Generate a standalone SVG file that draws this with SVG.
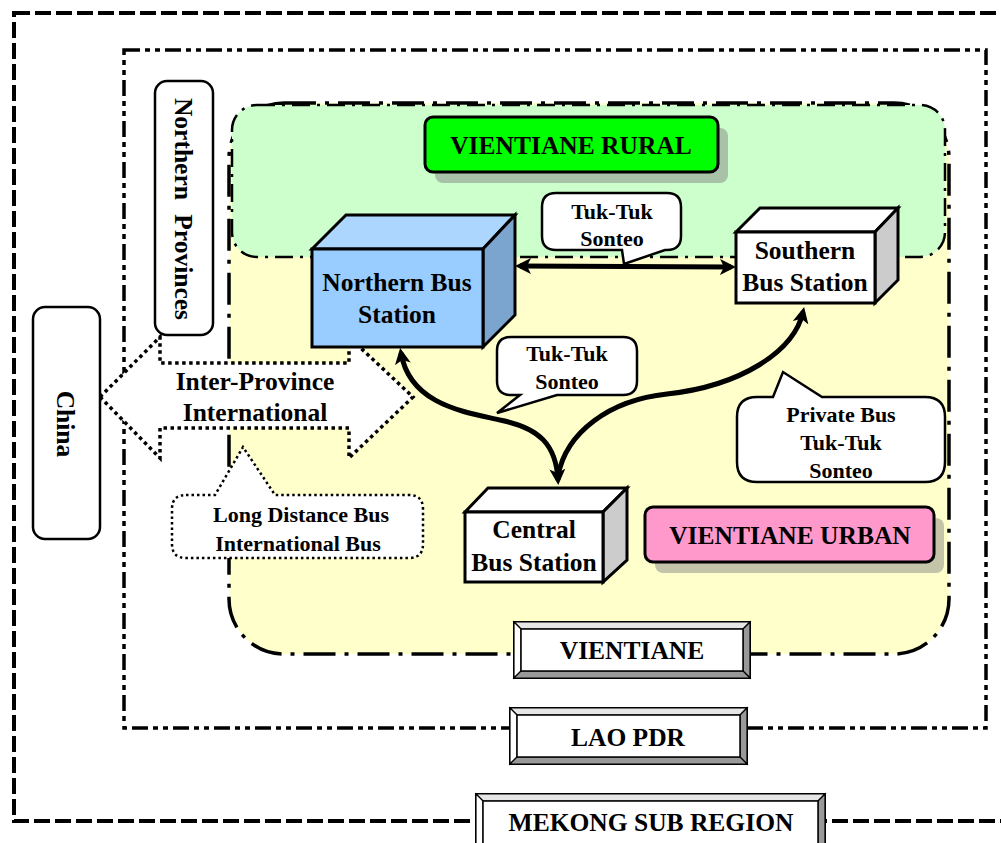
<svg xmlns="http://www.w3.org/2000/svg" width="1001" height="843" viewBox="0 0 1001 843">
<defs>
<style>
text{font-family:"Liberation Serif","Times New Roman",serif;font-weight:bold;fill:#000;text-anchor:middle}
.lbl{font-size:25.5px}
.sm{font-size:22px}
.edge{stroke:#000;stroke-width:3;stroke-linejoin:miter}
.cl{fill:#fff;stroke:#000;stroke-width:2.5}
.con{fill:none;stroke:#000;stroke-width:5}
.bev{stroke:#000;stroke-width:1.2}
</style>
<marker id="ah" viewBox="0 -8 16 16" refX="11" refY="0" markerWidth="16" markerHeight="16" markerUnits="userSpaceOnUse" orient="auto-start-reverse">
<path d="M0,-8 L16,0 L0,8 L4,0 Z" fill="#000"/>
</marker>
</defs>
<rect width="1001" height="843" fill="#fff"/>

<g id="mekong-border">
<rect x="14" y="13" width="1000" height="808" fill="none" stroke="#000" stroke-width="4" stroke-dasharray="16 5"/>
</g>
<g id="lao-border">
<rect x="124" y="50" width="862" height="678" fill="none" stroke="#000" stroke-width="3.5" stroke-dasharray="16 5 5 5 5 5"/>
</g>
<g id="vientiane-region">
<rect x="229" y="103" width="720" height="551" rx="55" fill="#FFFFCC" stroke="#000" stroke-width="3.5" stroke-dasharray="32 9 4 9"/>
</g>
<g id="rural-region">
<rect x="232" y="105" width="713" height="152" rx="25" fill="#CCFFCC" stroke="#000" stroke-width="2.5" stroke-dasharray="18 7 3 7"/>
</g>

<g id="vientiane-rural">
<rect x="435" y="128" width="293" height="55" rx="8" fill="#A8C2A8"/>
<rect x="425" y="117" width="293" height="55" rx="8" fill="#00FF00" stroke="#000" stroke-width="3"/>
<text class="lbl" x="571" y="154">VIENTIANE RURAL</text>
</g>
<g id="vientiane-urban">
<rect x="655" y="518" width="289" height="55" rx="8" fill="#C4C4A8"/>
<rect x="645" y="507" width="289" height="55" rx="8" fill="#FF99CC" stroke="#000" stroke-width="3"/>
<text class="lbl" x="790" y="544">VIENTIANE URBAN</text>
</g>

<g id="inter-province">
<path d="M100,397 L160,337 L160,363 L349,363 L349,337 L413,397 L349,458 L349,428 L160,428 L160,458 Z" fill="#fff" stroke="#000" stroke-width="3.5" stroke-dasharray="3.5 3.5"/>
<text class="lbl" x="255" y="390">Inter-Province</text>
<text class="lbl" x="255" y="421">International</text>
</g>

<g id="northern-provinces">
<rect x="155" y="81" width="58" height="254" rx="12" fill="#fff" stroke="#000" stroke-width="2.5"/>
<text class="lbl" transform="translate(184,209) rotate(90)" x="0" y="9" word-spacing="8">Northern Provinces</text>
</g>
<g id="china">
<rect x="33" y="307" width="67" height="232" rx="12" fill="#fff" stroke="#000" stroke-width="2.5"/>
<text class="lbl" transform="translate(66,424) rotate(90)" x="0" y="9">China</text>
</g>

<g id="callout-long-distance">
<path d="M186,495 H215 L243,447 L275,495 H409 Q423,495 423,509 V544 Q423,558 409,558 H186 Q172,558 172,544 V509 Q172,495 186,495 Z" fill="#fff" stroke="#000" stroke-width="2.5" stroke-dasharray="2.5 3"/>
<text class="sm" x="301" y="522">Long Distance Bus</text>
<text class="sm" x="298" y="551">International Bus</text>
</g>

<g id="connectors">
<path class="con" d="M520,266 L731,267" marker-start="url(#ah)" marker-end="url(#ah)"/>
<path class="con" d="M558,480 C556,445 540,428 500,420 C465,412 410,405 401,353" marker-start="url(#ah)" marker-end="url(#ah)"/>
<path class="con" d="M558,476 C566,432 610,400 667,394 C740,386 794,352 803,312" marker-end="url(#ah)"/>
</g>

<g id="callout-tuktuk-1">
<path class="cl" d="M556,193 H667 Q681,193 681,207 V236 Q681,250 667,250 H665 L624,264 L622,250 H556 Q542,250 542,236 V207 Q542,193 556,193 Z"/>
<text class="sm" x="612" y="219">Tuk-Tuk</text>
<text class="sm" x="612" y="246">Sonteo</text>
</g>
<g id="callout-tuktuk-2">
<path class="cl" d="M511,337 H623 Q637,337 637,351 V381 Q637,395 623,395 H557 L497,413 L520,395 H511 Q497,395 497,381 V351 Q497,337 511,337 Z"/>
<text class="sm" x="567" y="361">Tuk-Tuk</text>
<text class="sm" x="567" y="389">Sonteo</text>
</g>
<g id="callout-private">
<path class="cl" d="M757,397 H773 L783,372 L822,397 H925 Q945,397 945,417 V462 Q945,482 925,482 H757 Q737,482 737,462 V417 Q737,397 757,397 Z"/>
<text class="sm" x="841" y="422">Private Bus</text>
<text class="sm" x="841" y="450">Tuk-Tuk</text>
<text class="sm" x="841" y="478">Sonteo</text>
</g>

<g id="northern-bus-station">
<polygon class="edge" points="312,249 346,215 515,215 483,249" fill="#ADD6FF"/>
<polygon class="edge" points="483,249 515,215 515,315 483,347" fill="#7BA5CF"/>
<rect class="edge" x="312" y="249" width="171" height="98" fill="#99CCFF"/>
<text class="lbl" x="397" y="291">Northern Bus</text>
<text class="lbl" x="397" y="323">Station</text>
</g>
<g id="southern-bus-station">
<polygon class="edge" points="736,232 760,208 898,208 875,232" fill="#fff"/>
<polygon class="edge" points="875,232 898,208 898,280 875,303" fill="#CCCCCC"/>
<rect class="edge" x="736" y="232" width="139" height="71" fill="#fff"/>
<text class="lbl" x="805" y="259">Southern</text>
<text class="lbl" x="805" y="291">Bus Station</text>
</g>
<g id="central-bus-station">
<polygon class="edge" points="465,512 488,488 627,488 603,512" fill="#fff"/>
<polygon class="edge" points="603,512 627,488 627,560 603,582" fill="#CCCCCC"/>
<rect class="edge" x="465" y="512" width="138" height="70" fill="#fff"/>
<text class="lbl" x="534" y="538">Central</text>
<text class="lbl" x="534" y="571">Bus Station</text>
</g>

<g id="label-vientiane">
<rect x="514" y="622" width="236" height="56" fill="#fff" stroke="#000" stroke-width="2"/>
<polygon class="bev" points="514,622 750,622 743,629 521,629" fill="#E6E6E6"/>
<polygon class="bev" points="514,622 521,629 521,671 514,678" fill="#fff"/>
<polygon class="bev" points="750,622 750,678 743,671 743,629" fill="#999"/>
<polygon class="bev" points="514,678 521,671 743,671 750,678" fill="#999"/>
<rect x="521" y="629" width="222" height="42" fill="#fff" stroke="#000" stroke-width="1.5"/>
<text class="lbl" x="632" y="659">VIENTIANE</text>
</g>
<g id="label-lao">
<rect x="510" y="708" width="237" height="56" fill="#fff" stroke="#000" stroke-width="2"/>
<polygon class="bev" points="510,708 747,708 740,715 517,715" fill="#E6E6E6"/>
<polygon class="bev" points="510,708 517,715 517,757 510,764" fill="#fff"/>
<polygon class="bev" points="747,708 747,764 740,757 740,715" fill="#999"/>
<polygon class="bev" points="510,764 517,757 740,757 747,764" fill="#999"/>
<rect x="517" y="715" width="223" height="42" fill="#fff" stroke="#000" stroke-width="1.5"/>
<text class="lbl" x="628" y="746">LAO PDR</text>
</g>
<g id="label-mekong">
<rect x="476" y="794" width="349" height="56" fill="#fff" stroke="#000" stroke-width="2"/>
<polygon class="bev" points="476,794 825,794 818,801 483,801" fill="#E6E6E6"/>
<polygon class="bev" points="476,794 483,801 483,843 476,850" fill="#fff"/>
<polygon class="bev" points="825,794 825,850 818,843 818,801" fill="#999"/>
<rect x="483" y="801" width="335" height="49" fill="#fff" stroke="#000" stroke-width="1.5"/>
<text class="lbl" x="651" y="831">MEKONG SUB REGION</text>
</g>
</svg>
